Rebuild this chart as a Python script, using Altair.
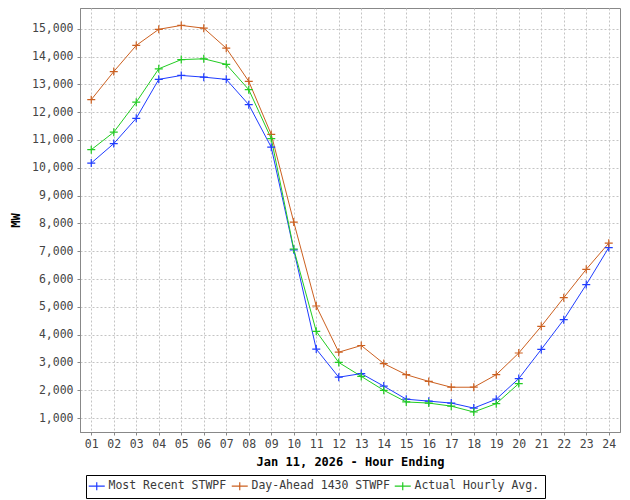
import altair as alt
import pandas as pd

hours = list(range(1, 25))
series_names = ["Most Recent STWPF", "Day-Ahead 1430 STWPF", "Actual Hourly Avg."]
colors = ["#1f3cff", "#cc6020", "#22cc22"]

most_recent = [10170, 10870, 11780, 13180, 13320, 13260, 13180, 12270, 10740, 7050,
               3480, 2470, 2600, 2150, 1680, 1610, 1540, 1360, 1680, 2420,
               3470, 4540, 5800, 7130]
day_ahead = [12450, 13460, 14400, 14980, 15120, 15020, 14300, 13110, 11200, 8050,
             5030, 3370, 3610, 2960, 2560, 2320, 2110, 2110, 2560, 3340,
             4300, 5330, 6350, 7290]
actual = [10650, 11280, 12360, 13560, 13890, 13920, 13720, 12810, 11050, 7080,
          4120, 3000, 2500, 2000, 1580, 1540, 1430, 1220, 1520, 2240]

y_ticks = list(range(1000, 15001, 1000))

rows = []
for name, vals in zip(series_names, [most_recent, day_ahead, actual]):
    for h, v in zip(hours, vals):
        rows.append({"hour": h, "MW": v, "series": name})
df = pd.DataFrame(rows)

FONT = "DejaVu Sans Mono"
PLUS = "M-1,0L1,0M0,-1L0,1"
LEGEND_SYM = "M-2,0L2,0M0,-1L0,1"

x = alt.X(
    "hour:Q",
    scale=alt.Scale(domain=[0.5, 24.5], nice=False, zero=False),
    axis=alt.Axis(
        values=hours,
        labelExpr="datum.value < 10 ? '0' + datum.value : '' + datum.value",
        title="Jan 11, 2026 - Hour Ending",
        tickSize=3,
        labelPadding=3,
        titlePadding=7,
    ),
)
y = alt.Y(
    "MW:Q",
    scale=alt.Scale(domain=[500, 15746], nice=False, zero=False),
    axis=alt.Axis(
        values=y_ticks,
        format=",d",
        title="MW",
        tickSize=3,
        labelPadding=4,
        titlePadding=9,
    ),
)
color = alt.Color(
    "series:N",
    scale=alt.Scale(domain=series_names, range=colors),
    sort=series_names,
    legend=alt.Legend(
        title=None,
        orient="none",
        legendX=6,
        legendY=467,
        direction="horizontal",
        symbolType=LEGEND_SYM,
        symbolSize=64,
        symbolStrokeWidth=1.2,
        symbolFillColor="transparent",
        labelFont=FONT,
        labelFontSize=11.5,
        labelColor="#3a3a3a",
        labelOffset=6,
        columnPadding=2,
        padding=5,
        strokeColor="#000000",
        fillColor="#ffffff",
    ),
)

base = alt.Chart(df).encode(x=x, y=y, color=color, detail="series:N")
lines = base.mark_line(strokeWidth=1)
points = base.mark_point(shape=PLUS, size=64, filled=False, strokeWidth=1.2, opacity=1)

chart = (
    alt.layer(lines, points)
    .properties(
        width=540,
        height=424,
        autosize=alt.AutoSizeParams(type="none"),
        padding={"left": 72, "top": 0, "right": 2, "bottom": 68},
        background="#ffffff",
    )
    .configure_view(stroke="#888888", strokeWidth=1)
    .configure_axis(
        domainColor="#888888",
        tickColor="#888888",
        gridColor="#c4c4c4",
        gridDash=[2, 2],
        gridWidth=1,
        labelFont=FONT,
        labelFontSize=11.5,
        labelColor="#444444",
        titleFont=FONT,
        titleFontSize=12,
        titleFontWeight="bold",
        titleColor="#000000",
    )
)

chart.save("out.html", embed_options={"renderer": "svg", "actions": False})
